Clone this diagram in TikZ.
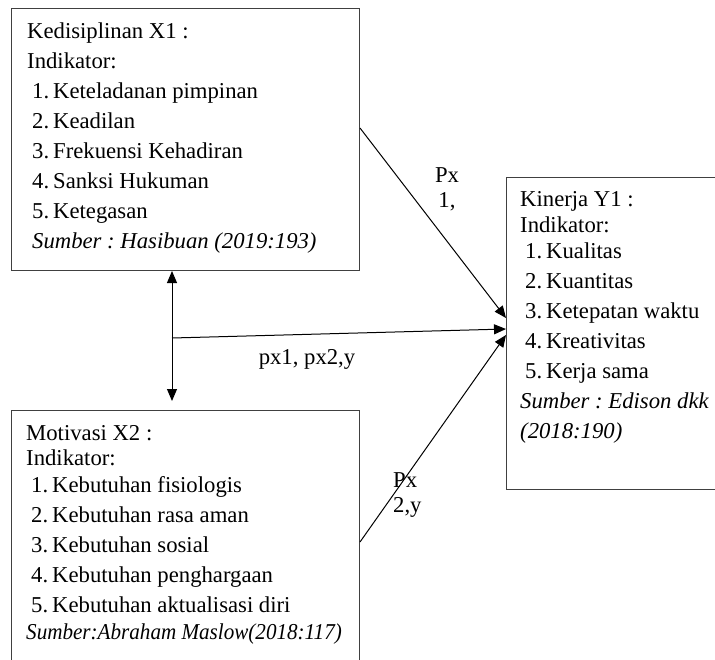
\documentclass[tikz,border=0pt]{standalone}
\usepackage{fontspec}
\setmainfont{Liberation Serif}
\usetikzlibrary{calc,arrows.meta,positioning}
\frenchspacing

\newcommand{\itm}[2]{\hspace*{5pt}\makebox[21pt][l]{#1}#2}

\tikzset{
  box/.style={draw=black!75, line width=1pt, rectangle, inner sep=0pt, anchor=north west},
  txt/.style={align=left, inner sep=0pt, anchor=north west, font=\fontsize{22.7}{30}\selectfont},
  lbl/.style={inner sep=0pt, font=\fontsize{22.7}{25}\selectfont},
  arr/.style={-{Triangle[length=12pt,width=10pt]}, line width=1pt},
}

\begin{document}
\begin{tikzpicture}[x=1pt,y=-1pt]
    \clip (0,0) rectangle (715,659);
    \fill[white] (0,0) rectangle (715,659);

    % boxes
    \node[box, minimum width=348pt, minimum height=262pt] (x1) at (11,8) {};
    \node[box, minimum width=348pt, minimum height=270pt] (x2) at (11,410) {};
    \node[box, minimum width=220pt, minimum height=312pt] (y1) at (506,177) {};

    % texts
    \node[txt, below right=14.5pt and 16pt of x1.north west] (x1txt) {%
      Kedisiplinan X1 :\\
      Indikator:\\
      \itm{1.}{Keteladanan pimpinan}\\
      \itm{2.}{Keadilan}\\
      \itm{3.}{Frekuensi Kehadiran}\\
      \itm{4.}{Sanksi Hukuman}\\
      \itm{5.}{Ketegasan}\\
      \hspace*{5pt}\textit{Sumber : Hasibuan (2019:193)}};
    \node[txt, below right=15pt and 15pt of x2.north west] (x2txt) {%
      Motivasi X2 :\\[-5pt]
      Indikator:\\[-3pt]
      \itm{1.}{Kebutuhan fisiologis}\\
      \itm{2.}{Kebutuhan rasa aman}\\
      \itm{3.}{Kebutuhan sosial}\\
      \itm{4.}{Kebutuhan penghargaan}\\
      \itm{5.}{Kebutuhan aktualisasi diri}\\[-3pt]
      \scalebox{0.93}[1]{\textit{Sumber:Abraham Maslow(2018:117)}}};
    \node[txt, below right=14pt and 14pt of y1.north west] (y1txt) {%
      Kinerja Y1 :\\[-4pt]
      Indikator:\\[-4pt]
      \itm{1.}{Kualitas}\\
      \itm{2.}{Kuantitas}\\
      \itm{3.}{Ketepatan waktu}\\
      \itm{4.}{Kreativitas}\\
      \itm{5.}{Kerja sama}\\
      \textit{Sumber : Edison dkk}\\
      \textit{(2018:190)}};

    % connectors
    \coordinate (mid) at ($(x1.south west)+(161,67)$);
    \draw[arr, {Triangle[length=12pt,width=10pt]}-{Triangle[length=12pt,width=10pt]}]
      ($(x1.south west)+(161,0)$) -- ($(x2.north west)+(161,-9)$);
    \draw[arr] (mid) -- ($(y1.north west)+(0,152)$);
    \draw[arr] ($(x1.north east)+(0,120)$) -- ($(y1.north west)+(0,141)$);
    \draw[arr] ($(x2.north east)+(0,132)$) -- ($(y1.north west)+(0,158)$);

    % labels
    \node[lbl, align=center, anchor=north] (p1) at (447,167) {Px\\1,};
    \node[lbl, anchor=base] (p12) at (307,364) {px1, px2,y};
    \node[lbl, align=left, anchor=north west] (p2) at (393,472) {Px\\2,y};
\end{tikzpicture}
\end{document}
